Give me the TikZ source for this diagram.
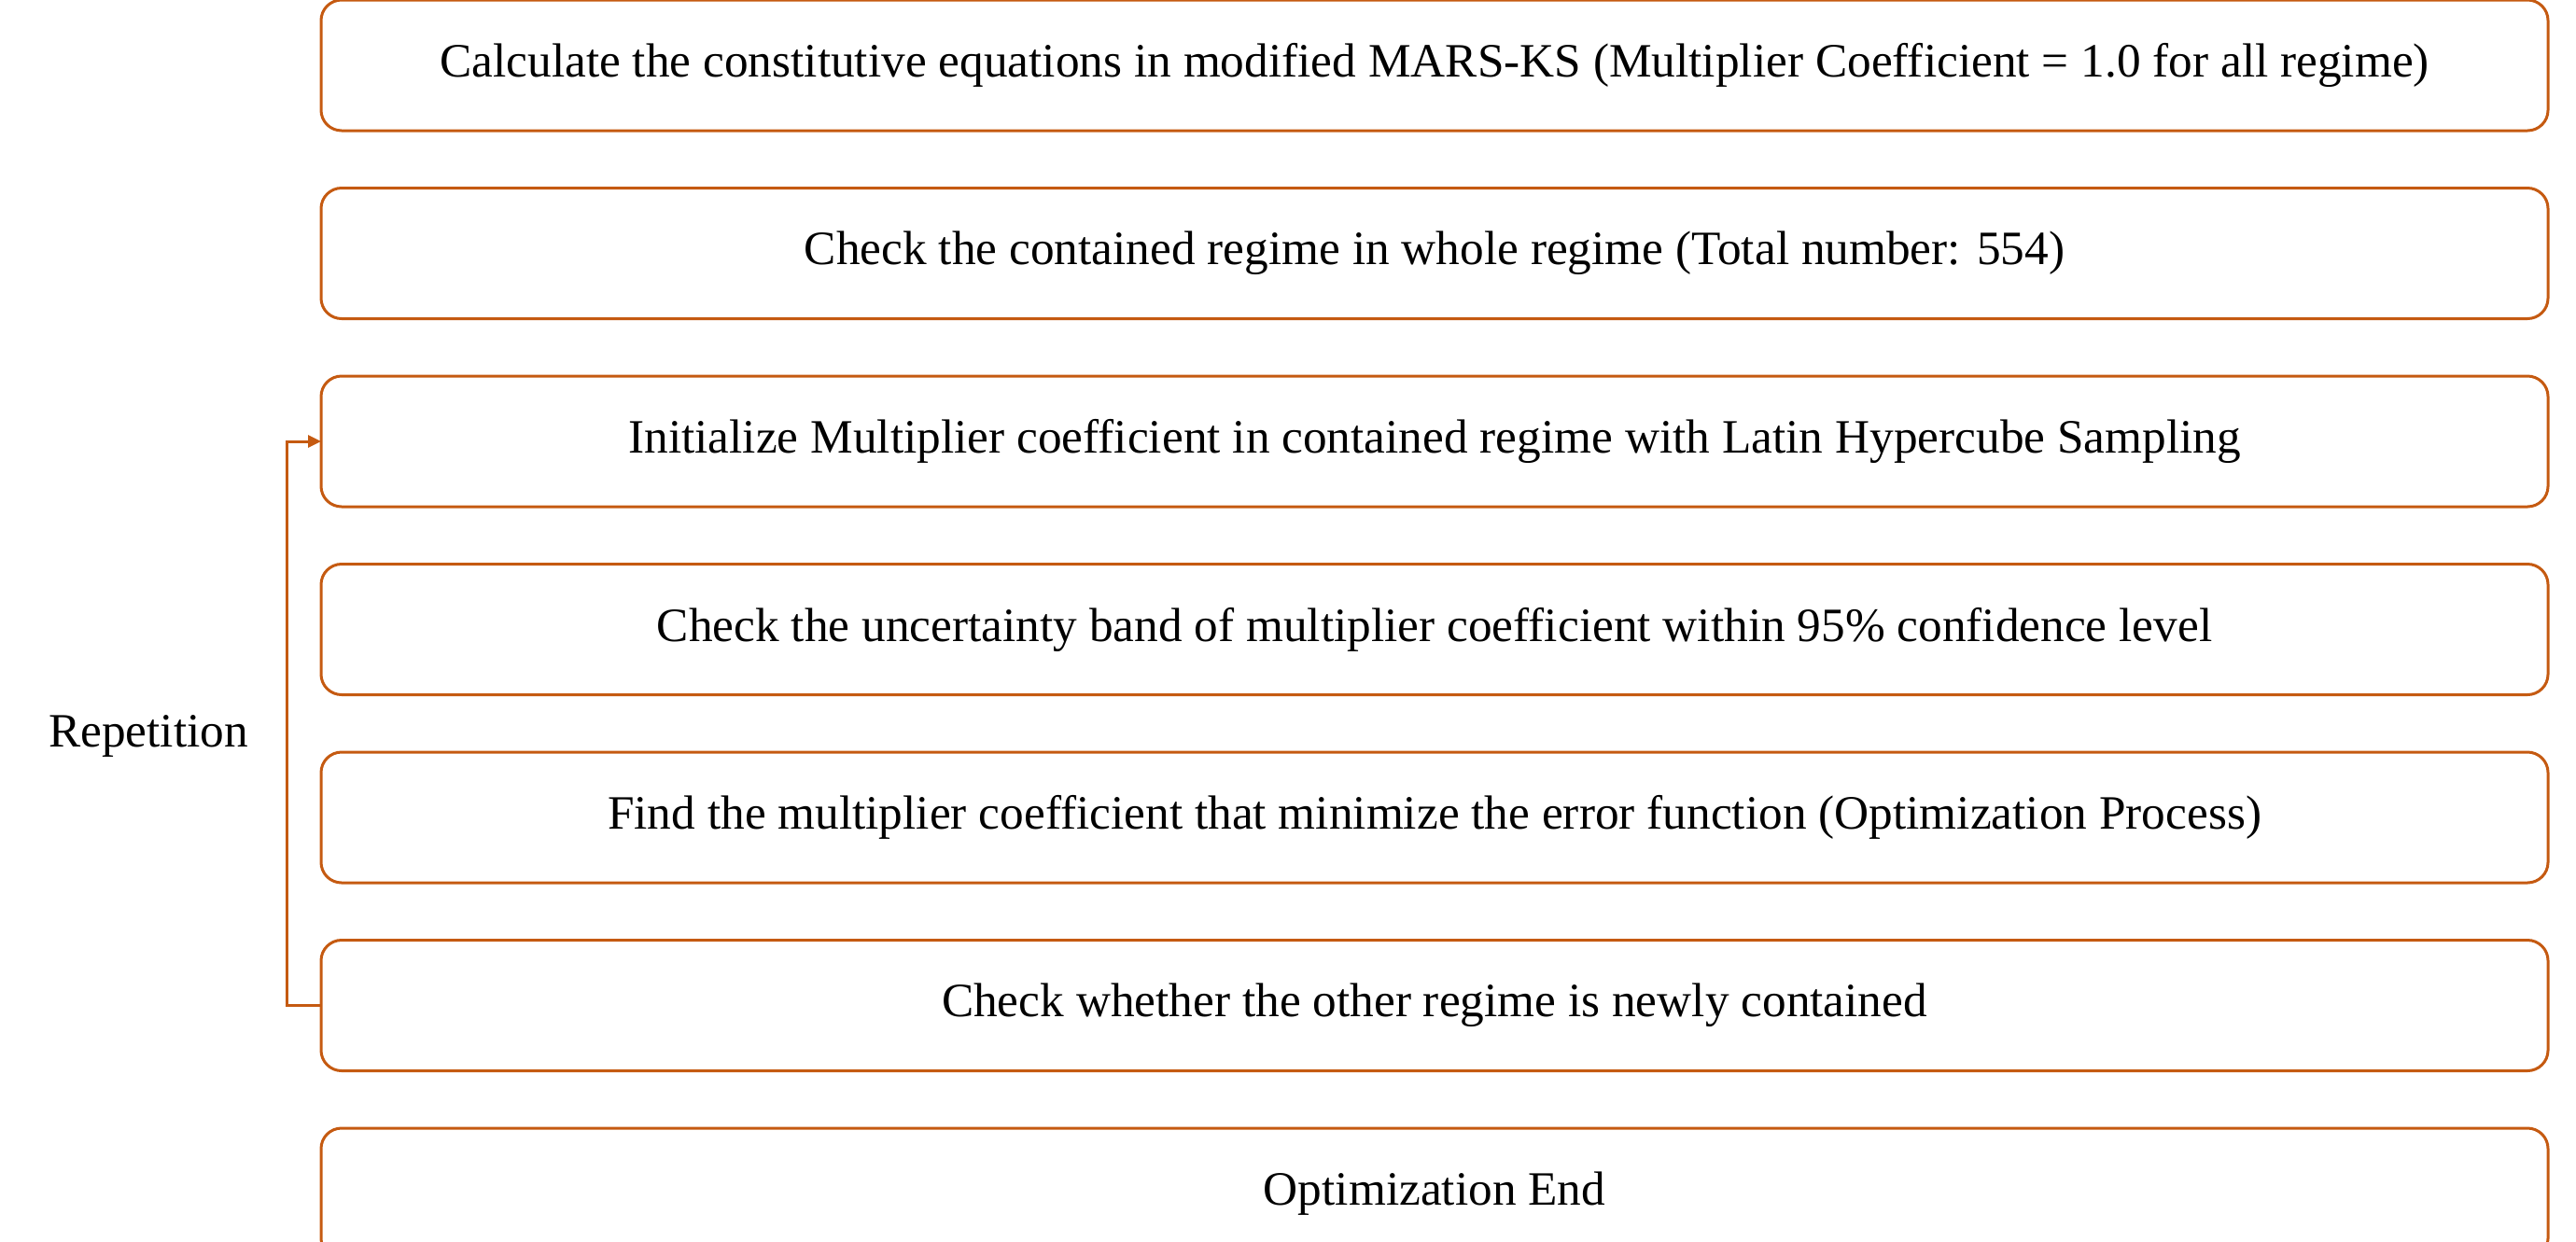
\documentclass[tikz,border=0pt]{standalone}
\usepackage{fontspec}
\setmainfont{Liberation Serif}
\usetikzlibrary{positioning,arrows.meta}
\definecolor{stageorange}{HTML}{C55A11}

\begin{document}
\begin{tikzpicture}[font=\fontsize{14.6}{17}\selectfont,node distance=0.615cm,
	stage/.style={rectangle,rounded corners=0.22cm,draw=stageorange,line width=0.03cm,
		minimum width=23.86cm,minimum height=1.4cm,outer sep=0pt}]
\useasboundingbox (0,0) rectangle (27.6,-13.3);
\node [stage,anchor=north] (s1) at (15.37,0) {Calculate the constitutive equations in modified MARS-KS (Multiplier Coefficient = 1.0 for all regime)};
\node [stage,below=of s1] (s2) {Check the contained regime in whole regime (Total number: 554)};
\node [stage,below=of s2] (s3) {Initialize Multiplier coefficient in contained regime with Latin Hypercube Sampling};
\node [stage,below=of s3] (s4) {Check the uncertainty band of multiplier coefficient within 95\% confidence level};
\node [stage,below=of s4] (s5) {Find the multiplier coefficient that minimize the error function (Optimization Process)};
\node [stage,below=of s5] (s6) {Check whether the other regime is newly contained};
\node [stage,below=of s6] (s7) {Optimization End};

% repetition loop
\coordinate (loop) at (3.07,0);
\draw [stageorange,line width=0.03cm,-{Triangle[length=0.14cm,width=0.13cm]}]
	(s6.west) -- (s6.west -| loop) |- (s3.west);
\node (rep) at (1.59,-7.89) {Repetition};
\end{tikzpicture}
\end{document}
